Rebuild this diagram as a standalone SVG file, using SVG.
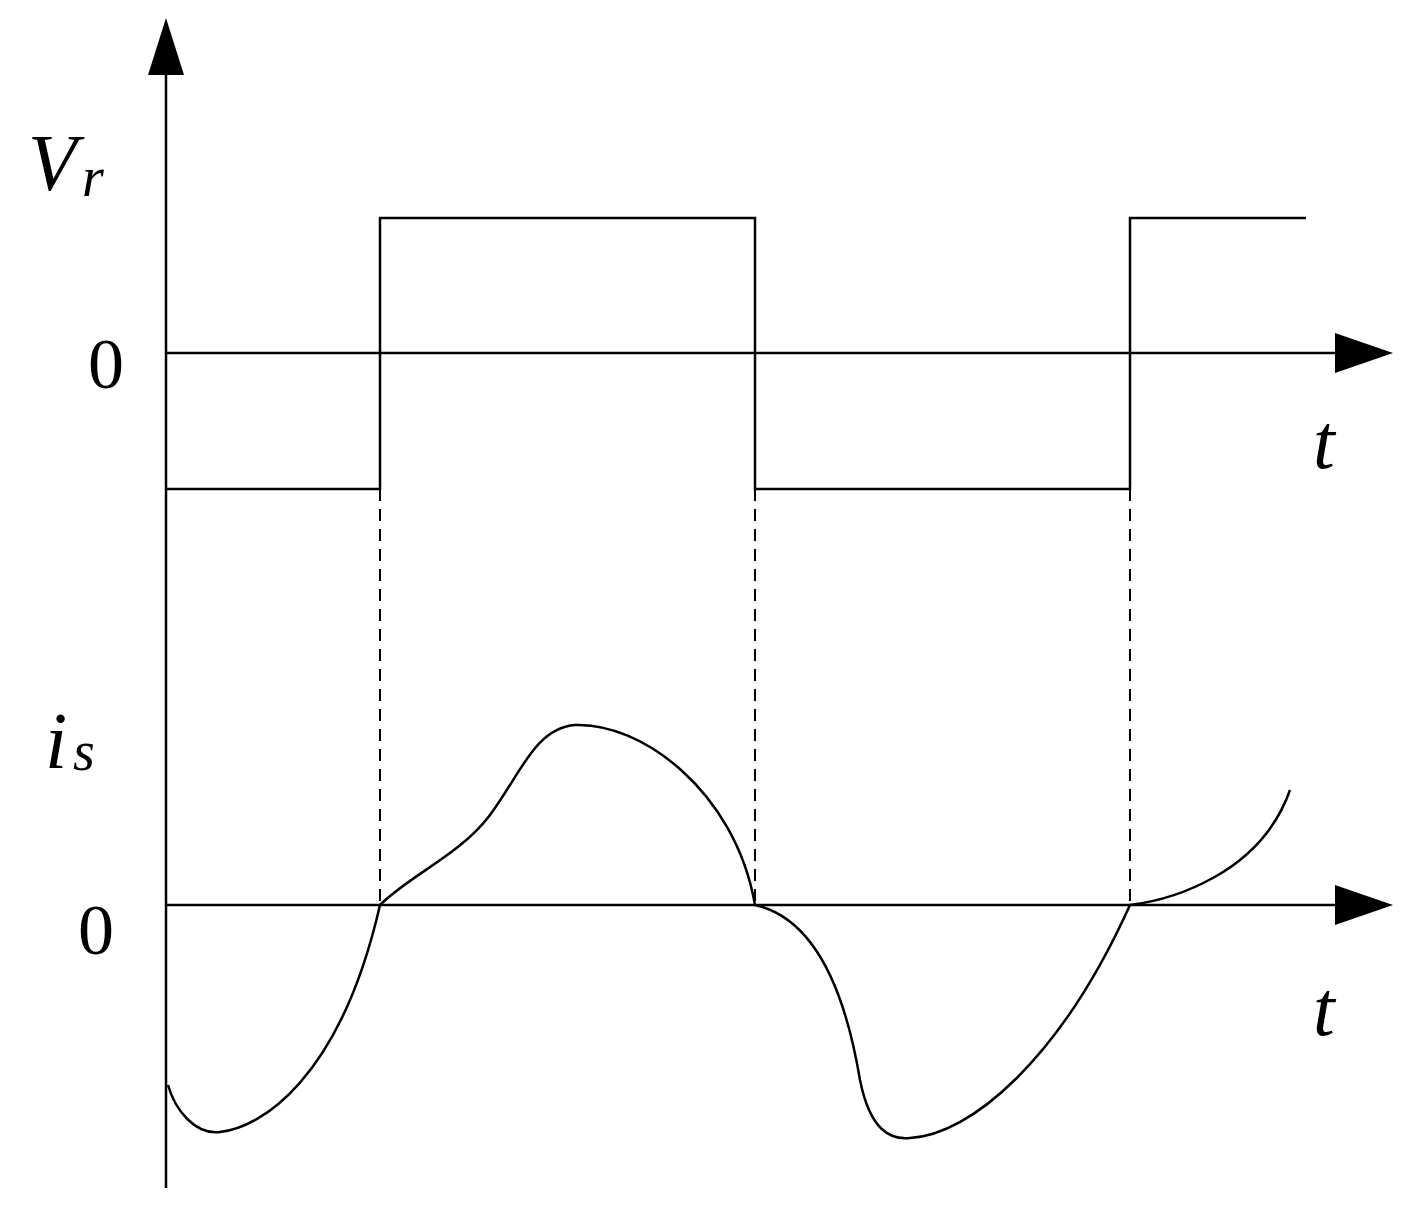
<svg xmlns="http://www.w3.org/2000/svg" width="1419" height="1211" viewBox="0 0 1419 1211">
<style>
.l{fill:none;stroke:#000;stroke-width:2.5}
.d{fill:none;stroke:#000;stroke-width:2;stroke-dasharray:12,8}
.t{font-family:"Liberation Serif",serif;fill:#000}
.i{font-style:italic}
</style>
<rect width="1419" height="1211" fill="#fff"/>
<g id="axes">
<line class="l" x1="166" y1="60" x2="166" y2="1188"/>
<polygon points="166,18 148,75 184,75"/>
<line class="l" x1="166" y1="353" x2="1340" y2="353"/>
<polygon points="1393,353 1335,333 1335,373"/>
<line class="l" x1="166" y1="905" x2="1340" y2="905"/>
<polygon points="1393,905 1335,885 1335,925"/>
</g>
<g id="signals">
<polyline class="l" points="166,489 380,489 380,218 755,218 755,489 1130,489 1130,218 1306,218"/>
<line class="d" x1="380" y1="489" x2="380" y2="905"/>
<line class="d" x1="755" y1="489" x2="755" y2="905"/>
<line class="d" x1="1130" y1="489" x2="1130" y2="905"/>
<path class="l" d="M168,1085 C175,1110 195,1135 220,1132 C260,1128 340,1080 380,905 C410,875 460,855 490,815 C520,775 535,728 575,725 C640,722 735,790 755,905 C800,915 840,960 860,1080 C870,1130 890,1140 910,1138 C970,1135 1060,1060 1130,905 C1170,900 1260,875 1290,790"/>
</g>
<g id="labels">
<text class="t i" x="28" y="190" font-size="80">V</text>
<text class="t i" x="82" y="196" font-size="56">r</text>
<text class="t" x="88" y="388" font-size="72">0</text>
<text class="t i" x="1313" y="468" font-size="78">t</text>
<text class="t i" x="45" y="768" font-size="80">i</text>
<text class="t i" x="73" y="770" font-size="56">s</text>
<text class="t" x="78" y="954" font-size="72">0</text>
<text class="t i" x="1313" y="1035" font-size="78">t</text>
</g>
</svg>
